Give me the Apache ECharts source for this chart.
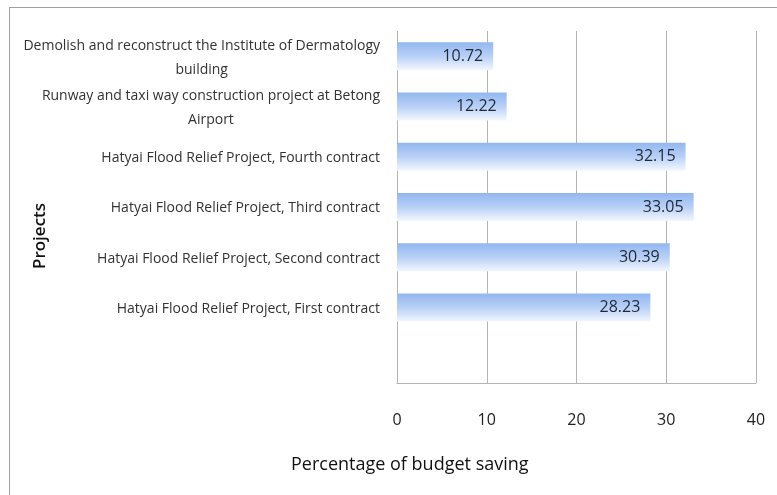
<!DOCTYPE html>
<html>
<head>
<meta charset="utf-8">
<script src="https://cdn.jsdelivr.net/npm/echarts@6/dist/echarts.min.js"></script>
<style>
html,body{margin:0;padding:0;background:#fff;}
#chart{width:777px;height:495px;}
</style>
</head>
<body>
<div id="chart"></div>
<script>
// bottom-to-top order; the bottom slot is empty in the original
const categories = [
  '',
  'Hatyai Flood Relief Project, First contract',
  'Hatyai Flood Relief Project, Second contract',
  'Hatyai Flood Relief Project, Third contract',
  'Hatyai Flood Relief Project, Fourth contract',
  'Runway and taxi way construction project at Betong\nAirport',
  'Demolish and reconstruct the Institute of Dermatology\nbuilding'
];
const savings = [null, 28.23, 30.39, 33.05, 32.15, 12.22, 10.72];
const xTicks = [0, 10, 20, 30, 40];
const xTitle = 'Percentage of budget saving';
const yTitle = 'Projects';

const FONT = 'Open Sans';
const chart = echarts.init(document.getElementById('chart'));
chart.setOption({
  animation: false,
  backgroundColor: '#fff',
  grid: {left: 397, top: 31, right: 21, bottom: 112, containLabel: false},
  xAxis: {
    type: 'value',
    min: xTicks[0], max: xTicks[xTicks.length - 1], interval: 10,
    axisLine: {show: true, lineStyle: {color: '#b4b4b4', width: 1}},
    axisTick: {show: false},
    splitLine: {show: true, lineStyle: {color: '#b4b4b4', width: 1}},
    axisLabel: {color: '#222', fontSize: 16, fontFamily: FONT, margin: 29}
  },
  yAxis: {
    type: 'category',
    data: categories,
    axisLine: {show: false},
    axisTick: {show: false},
    axisLabel: {
      interval: 0, hideOverlap: false,
      color: '#333', fontSize: 14, fontFamily: FONT, margin: 17, lineHeight: 24,
      padding: [3, 0, 0, 0],
      formatter: v => v.split('\n').map(l => '{c|' + l + '}').join('\n'),
      rich: {c: {align: 'center', color: '#333', fontSize: 14, fontFamily: FONT, lineHeight: 24}}
    }
  },
  series: [{
    type: 'bar',
    data: savings,
    barWidth: 28,
    itemStyle: {
      color: new echarts.graphic.LinearGradient(0, 0, 0, 1, [
        {offset: 0, color: '#92b7f0'},
        {offset: 0.5, color: '#b8d0f6'},
        {offset: 1, color: '#f3f7fe'}
      ])
    },
    label: {
      show: true, position: 'insideRight', distance: 10,
      color: '#1e2838', fontSize: 16, fontFamily: FONT, padding: [3, 0, 0, 0],
      formatter: p => p.value.toFixed(2)
    }
  }],
  graphic: [
    {type: 'line', shape: {x1: 9, y1: 7.5, x2: 777, y2: 7.5}, style: {stroke: '#a0a0a0', lineWidth: 1}},
    {type: 'line', shape: {x1: 9.5, y1: 7, x2: 9.5, y2: 495}, style: {stroke: '#a0a0a0', lineWidth: 1}},
    {type: 'text', left: 291, top: 456, style: {text: xTitle, fontSize: 18, fontFamily: FONT, fill: '#111'}},
    {type: 'text', x: 40, y: 236, rotation: Math.PI / 2,
     style: {text: yTitle, fontSize: 17, fontWeight: 600, fontFamily: FONT, fill: '#111', align: 'center', verticalAlign: 'middle'}}
  ]
});
</script>
</body>
</html>
